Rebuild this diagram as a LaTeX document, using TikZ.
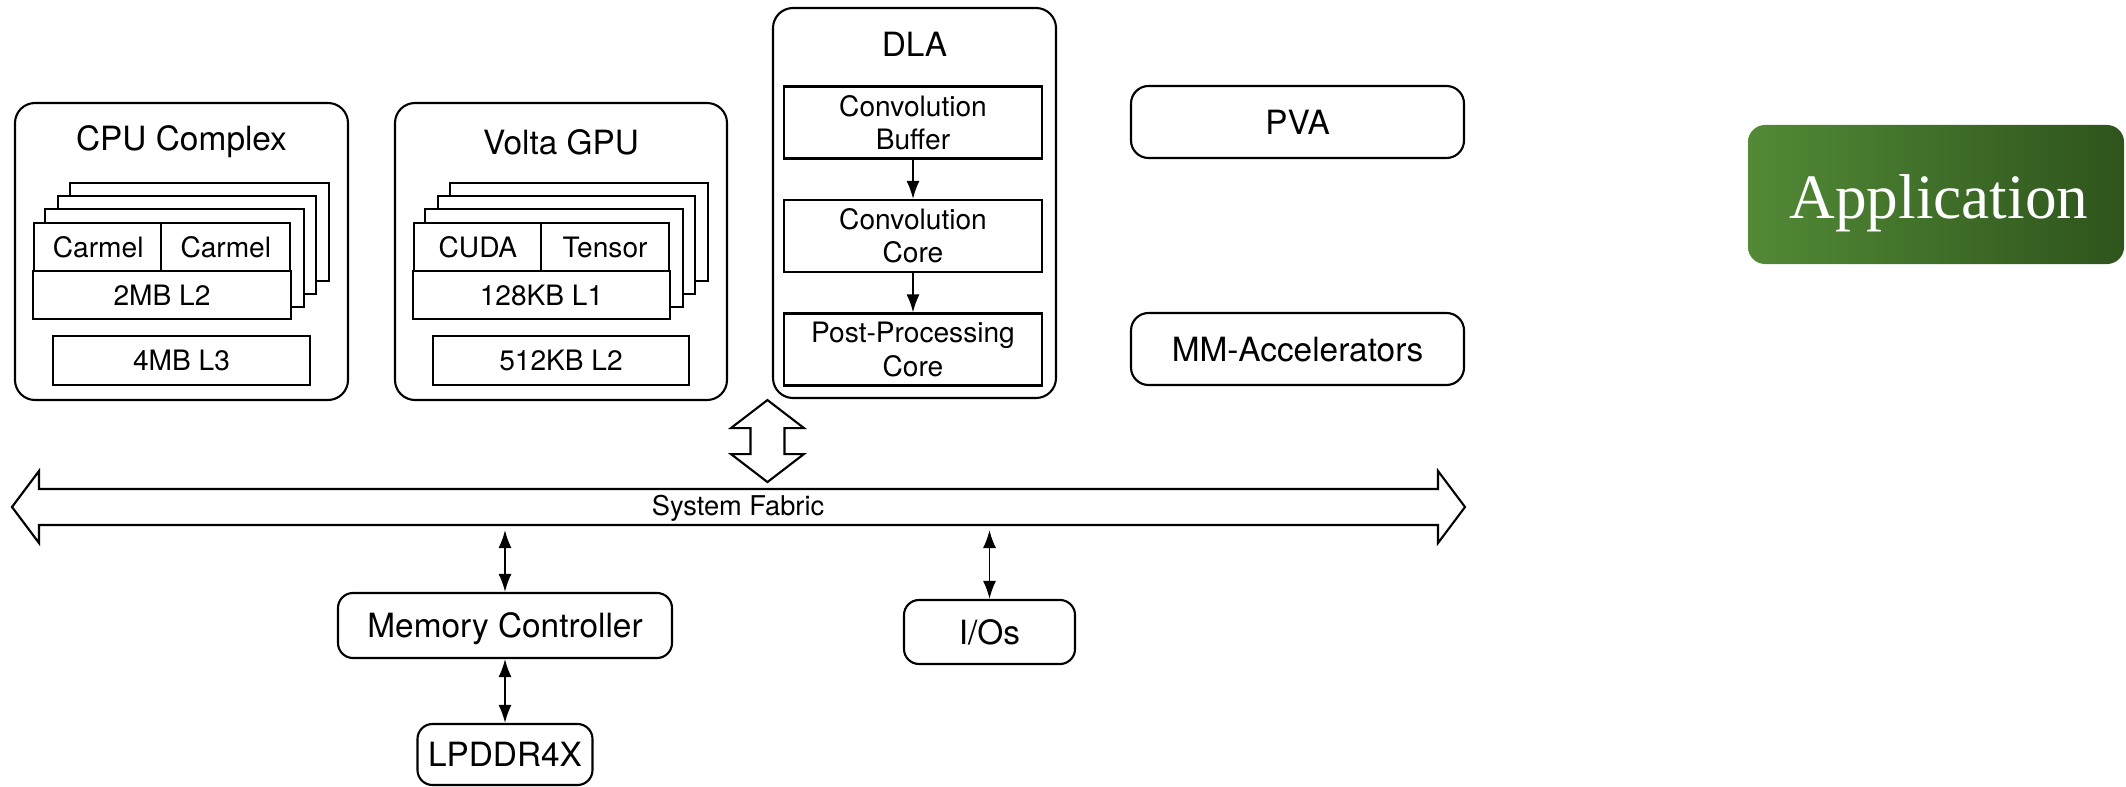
\documentclass[tikz,border=0pt]{standalone}
\usepackage{fontspec}
\setmainfont{TeX Gyre Heros}
\newfontfamily\appfont{Liberation Serif}
\usepackage{tikz}
\usetikzlibrary{positioning,arrows.meta}

\definecolor{appleft}{RGB}{82,138,54}
\definecolor{appright}{RGB}{46,84,28}

\begin{document}
\begin{tikzpicture}[on grid,
  cluster/.style={draw,line width=1.2pt,rounded corners=0.4cm,inner sep=0pt},
  unit/.style={draw,line width=1.2pt,fill=white,inner sep=0pt,align=center,font=\fontsize{16}{19}\selectfont},
  copycore/.style={draw,line width=1.2pt,fill=white},
  engine/.style={draw,line width=1.2pt,rounded corners=0.35cm,inner sep=0pt,text depth=0pt,font=\fontsize{19}{22}\selectfont},
  heading/.style={inner sep=0pt,font=\fontsize{19}{22}\selectfont},
  bus/.style={draw,line width=1.2pt,line join=miter},
  link/.style={{Latex[length=0.36cm,width=0.26cm]}-{Latex[length=0.36cm,width=0.26cm]},line width=1pt},
  flow/.style={-{Latex[length=0.36cm,width=0.26cm]},line width=1pt}]

\useasboundingbox (0,0) rectangle (42.52,15.72);

% CPU and GPU clusters
\node[cluster,minimum width=6.66cm,minimum height=5.94cm] (cpu) at (3.63,10.69) {};
\node[cluster,minimum width=6.64cm,minimum height=5.94cm] (gpu) [right=7.59cm of cpu] {};
\node[heading] (cpu_t) at ([yshift=-0.8cm]cpu.north) {CPU Complex};
\node[heading] (gpu_t) at ([yshift=-0.8cm]gpu.north) {Volta GPU};
\node[minimum width=5.16cm,minimum height=1.96cm] (cpucore) at ([shift={(-0.39,-0.39)}]cpu.center) {};
\node[minimum width=5.14cm,minimum height=1.96cm] (gpucore) at ([shift={(-0.39,-0.39)}]gpu.center) {};
\foreach \c in {cpucore,gpucore}
  \foreach \k in {3,2,1}
    \draw[copycore] ([shift={(0.25*\k,0.26*\k)}]\c.south west) rectangle ([shift={(0.25*\k,0.26*\k)}]\c.north east);
\node[unit,minimum width=2.58cm,minimum height=1cm,anchor=north west] (carmel_a) at (cpucore.north west) {Carmel};
\node[unit,minimum width=2.58cm,minimum height=1cm,anchor=north east] (carmel_b) at (cpucore.north east) {Carmel};
\node[unit,minimum width=5.16cm,minimum height=0.96cm,anchor=south] (cpu_l2) at (cpucore.south) {2MB L2};
\node[unit,minimum width=5.14cm,minimum height=0.98cm] (cpu_l3) [below=2.18cm of cpu] {4MB L3};
\node[unit,minimum width=2.57cm,minimum height=1cm,anchor=north west] (cuda) at (gpucore.north west) {CUDA};
\node[unit,minimum width=2.57cm,minimum height=1cm,anchor=north east] (tensor) at (gpucore.north east) {Tensor};
\node[unit,minimum width=5.14cm,minimum height=0.96cm,anchor=south] (gpu_l1) at (gpucore.south) {128KB L1};
\node[unit,minimum width=5.12cm,minimum height=0.98cm] (gpu_l2) [below=2.18cm of gpu] {512KB L2};

% DLA
\node[cluster,minimum width=5.66cm,minimum height=7.8cm] (dla) at (18.29,11.66) {};
\node[heading] (dla_t) at ([yshift=-0.74cm]dla.north) {DLA};
\node[unit,minimum width=5.16cm,minimum height=1.44cm] (convbuf) at (18.26,13.27) {Convolution\\Buffer};
\node[unit,minimum width=5.16cm,minimum height=1.44cm] (convcore) [below=2.27cm of convbuf] {Convolution\\Core};
\node[unit,minimum width=5.16cm,minimum height=1.44cm] (postproc) [below=2.27cm of convcore] {Post-Processing\\Core};
\draw[flow] (convbuf) -- (convcore);
\draw[flow] (convcore) -- (postproc);

% other engines
\node[engine,minimum width=6.66cm,minimum height=1.44cm] (pva) at (25.95,13.28) {PVA};
\node[engine,minimum width=6.66cm,minimum height=1.44cm] (mmacc) [below=4.54cm of pva] {MM-Accelerators};
\node[inner sep=0pt,rounded corners=0.34cm,left color=appleft,right color=appright,
  minimum width=7.52cm,minimum height=2.78cm] (app) at (38.72,11.83) {};
\node[text=white,inner sep=0pt,font=\appfont\fontsize{36}{40}\selectfont] (app_t) at ([shift={(0.06,-0.18)}]app.center) {Application};

% system fabric
\coordinate (fabW) at (0.24,5.58);
\coordinate (fabE) at (29.30,5.58);
\coordinate (fabS) at (0,5.22);
\draw[bus] (fabW) -- ++(0.54,0.72) -- ++(0,-0.36) -- ([shift={(-0.54,0.36)}]fabE) -- ++(0,0.36)
  -- (fabE) -- ++(-0.54,-0.72) -- ++(0,0.36) -- ([shift={(0.54,-0.36)}]fabW) -- ++(0,-0.36) -- cycle;
\node[font=\fontsize{15.5}{18}\selectfont] (fabric) at (14.76,5.56) {System Fabric};
\coordinate (dlaport) at ([shift={(-0.09,-0.02)}]dla.south west);
\draw[bus] (dlaport) -- ++(0.73,-0.56) -- ++(-0.39,0) -- ++(0,-0.52) -- ++(0.39,0) -- ++(-0.73,-0.56)
  -- ++(-0.73,0.56) -- ++(0.39,0) -- ++(0,0.52) -- ++(-0.39,0) -- cycle;

% memory and I/O
\node[engine,rounded corners=0.3cm,minimum width=6.68cm,minimum height=1.3cm] (mc) at (10.10,3.21) {Memory Controller};
\node[engine,rounded corners=0.3cm,minimum width=3.5cm,minimum height=1.22cm] (lpddr) [below=2.58cm of mc] {LPDDR4X};
\node[engine,rounded corners=0.3cm,minimum width=3.42cm,minimum height=1.28cm] (ios) at (19.79,3.08) {I/Os};
\draw[link,shorten <=0.1cm] (mc.north |- fabS) -- (mc.north);
\draw[link] (mc) -- (lpddr);
\draw[link,shorten <=0.1cm] (ios.north |- fabS) -- (ios.north);
\end{tikzpicture}
\end{document}
